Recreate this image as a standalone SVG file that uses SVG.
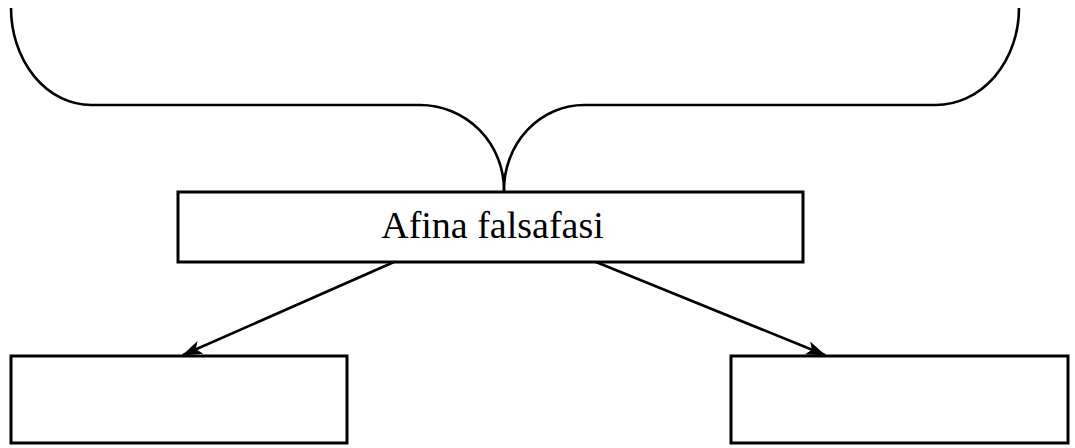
<svg xmlns="http://www.w3.org/2000/svg" width="1075" height="448" viewBox="0 0 1075 448">
<style>
.box{fill:#fff;stroke:#000;stroke-width:3}
.ln{fill:none;stroke:#000;stroke-width:2.6}
.lbl{font-family:"Liberation Serif","Times New Roman",serif;font-size:38px;fill:#000}
</style>
<defs>
<marker id="arr" viewBox="0 0 20 14" refX="19" refY="7" markerWidth="20" markerHeight="14" markerUnits="userSpaceOnUse" orient="auto">
<path d="M0,0 L20,7 L0,14 L5,7 Z" fill="#000"/>
</marker>
</defs>
<rect width="1075" height="448" fill="#fff"/>
<g id="brace">
<path class="ln" d="M11,8 A80,97 0 0 0 91,105 L420,105 A84,85 0 0 1 504,190 A80,85 0 0 1 584,105 L936,105 A83,97 0 0 0 1019,8"/>
<line class="ln" x1="504" y1="188" x2="504" y2="198"/>
</g>
<g id="connectors">
<line class="ln" x1="394" y1="262" x2="183" y2="355" marker-end="url(#arr)"/>
<line class="ln" x1="596" y1="262" x2="825" y2="355" marker-end="url(#arr)"/>
</g>
<g id="node-center">
<rect class="box" x="178" y="192" width="625" height="70"/>
<text class="lbl" x="492.5" y="238" text-anchor="middle">Afina falsafasi</text>
</g>
<g id="node-left">
<rect class="box" x="11" y="356" width="336" height="87"/>
</g>
<g id="node-right">
<rect class="box" x="731" y="356" width="337" height="87"/>
</g>
</svg>
